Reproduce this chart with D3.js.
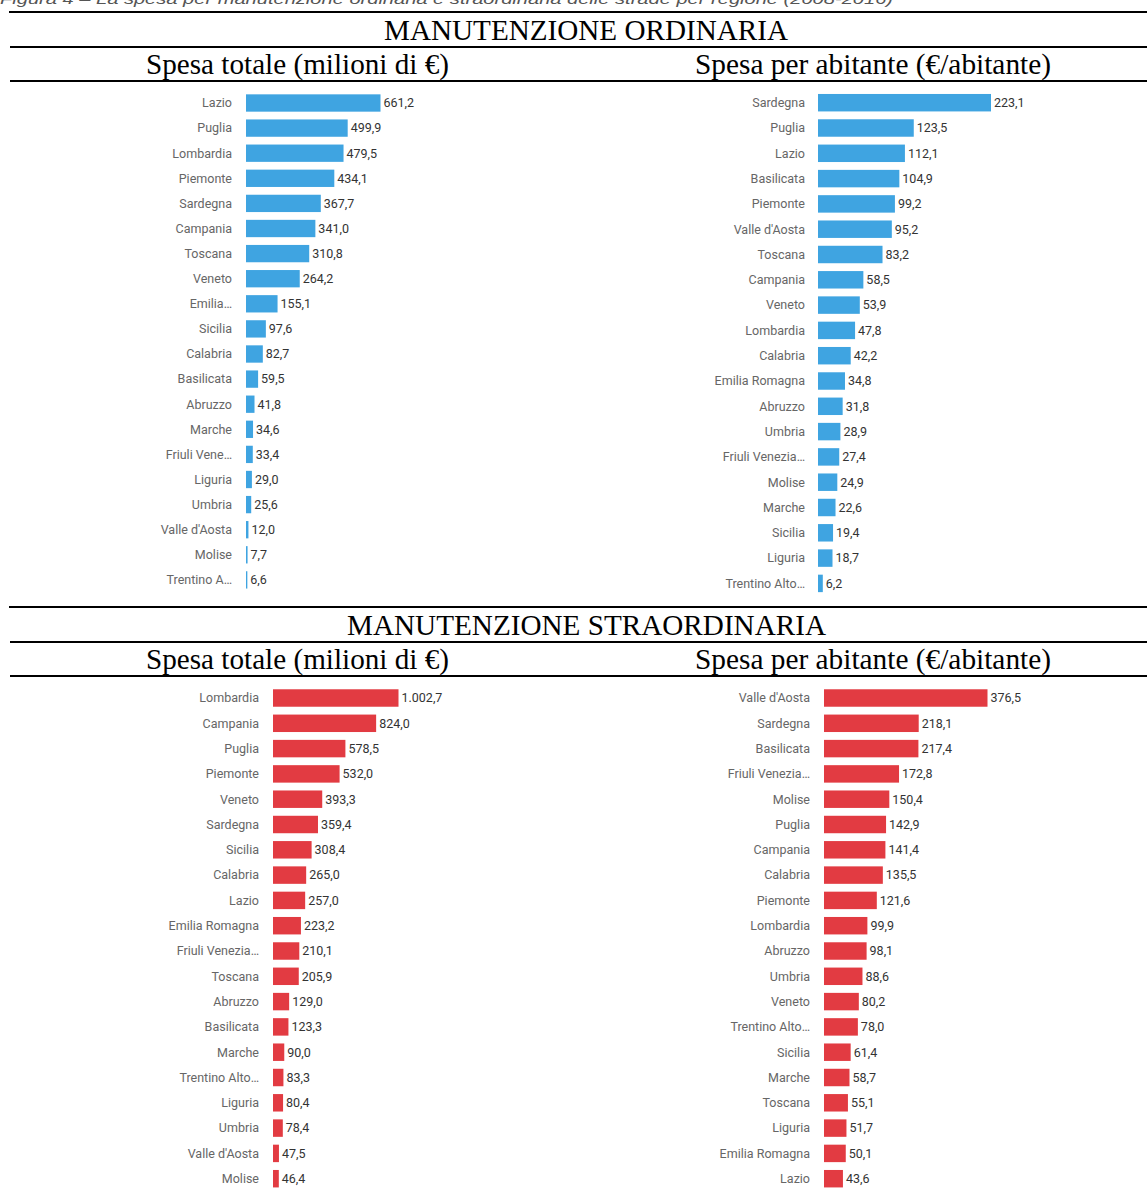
<!DOCTYPE html>
<html>
<head>
<meta charset="utf-8">
<script src="https://cdn.jsdelivr.net/npm/d3@7"></script>
<style>
  html, body { margin: 0; padding: 0; background: #fff; }
  svg { display: block; }
</style>
</head>
<body>
<svg id="chart" width="1147" height="1196"></svg>
<script>
// ---------- DATA ----------
const captionText = "Figura 4 – La spesa per manutenzione ordinaria e straordinaria delle strade per regione (2008-2016)";
const sectionTitles = ["MANUTENZIONE ORDINARIA", "MANUTENZIONE STRAORDINARIA"];
const panelTitles = ["Spesa totale (milioni di €)", "Spesa per abitante (€/abitante)"];

const ordTotRegions = ["Lazio","Puglia","Lombardia","Piemonte","Sardegna","Campania","Toscana","Veneto","Emilia…","Sicilia","Calabria","Basilicata","Abruzzo","Marche","Friuli Vene…","Liguria","Umbria","Valle d'Aosta","Molise","Trentino A…"];
const ordTotValues = [661.2,499.9,479.5,434.1,367.7,341.0,310.8,264.2,155.1,97.6,82.7,59.5,41.8,34.6,33.4,29.0,25.6,12.0,7.7,6.6];

const ordAbRegions = ["Sardegna","Puglia","Lazio","Basilicata","Piemonte","Valle d'Aosta","Toscana","Campania","Veneto","Lombardia","Calabria","Emilia Romagna","Abruzzo","Umbria","Friuli Venezia…","Molise","Marche","Sicilia","Liguria","Trentino Alto…"];
const ordAbValues = [223.1,123.5,112.1,104.9,99.2,95.2,83.2,58.5,53.9,47.8,42.2,34.8,31.8,28.9,27.4,24.9,22.6,19.4,18.7,6.2];

const strTotRegions = ["Lombardia","Campania","Puglia","Piemonte","Veneto","Sardegna","Sicilia","Calabria","Lazio","Emilia Romagna","Friuli Venezia…","Toscana","Abruzzo","Basilicata","Marche","Trentino Alto…","Liguria","Umbria","Valle d'Aosta","Molise"];
const strTotValues = [1002.7,824.0,578.5,532.0,393.3,359.4,308.4,265.0,257.0,223.2,210.1,205.9,129.0,123.3,90.0,83.3,80.4,78.4,47.5,46.4];

const strAbRegions = ["Valle d'Aosta","Sardegna","Basilicata","Friuli Venezia…","Molise","Puglia","Campania","Calabria","Piemonte","Lombardia","Abruzzo","Umbria","Veneto","Trentino Alto…","Sicilia","Marche","Toscana","Liguria","Emilia Romagna","Lazio"];
const strAbValues = [376.5,218.1,217.4,172.8,150.4,142.9,141.4,135.5,121.6,99.9,98.1,88.6,80.2,78.0,61.4,58.7,55.1,51.7,50.1,43.6];

// ---------- LAYOUT ----------
const BLUE = "#3fa4e1", RED = "#e23b42";
const svg = d3.select("#chart");
const fmt = d3.formatLocale({decimal: ",", thousands: ".", grouping: [3], currency: ["", "€"]}).format(",.1f");

// caption (partly cut off at top, as in the source)
svg.append("text")
  .attr("x", 0).attr("y", 4)
  .attr("textLength", 893).attr("lengthAdjust", "spacingAndGlyphs")
  .style("font-family", "Liberation Sans, Arial, sans-serif")
  .style("font-style", "italic").style("font-size", "14px")
  .style("fill", "#555")
  .text(captionText);

function header(offset, title, titleX, titleW) {
  const lines = [
    {y: 12 + offset, x: 9},
    {y: 47 + offset, x: 10},
    {y: 81 + offset, x: 10}
  ];
  svg.selectAll(null).data(lines).enter().append("line")
    .attr("x1", d => d.x).attr("x2", 1147)
    .attr("y1", d => d.y).attr("y2", d => d.y)
    .attr("stroke", "#000").attr("stroke-width", 2);
  const serif = "Liberation Serif, Times New Roman, serif";
  svg.append("text").attr("x", titleX).attr("y", 40 + offset)
    .attr("textLength", titleW).attr("lengthAdjust", "spacingAndGlyphs")
    .style("font-family", serif).style("font-size", "29px").style("fill", "#000")
    .text(title);
  const subs = [{t: panelTitles[0], x: 146, w: 303}, {t: panelTitles[1], x: 695, w: 356}];
  svg.selectAll(null).data(subs).enter().append("text")
    .attr("x", d => d.x).attr("y", 74 + offset)
    .attr("textLength", d => d.w).attr("lengthAdjust", "spacingAndGlyphs")
    .style("font-family", serif).style("font-size", "29px").style("fill", "#000")
    .text(d => d.t);
}

header(0, sectionTitles[0], 384, 404);
header(595, sectionTitles[1], 347, 479);

function panel(regions, values, cfg) {
  const n = regions.length;
  const y = d3.scaleBand().domain(regions)
    .range([cfg.c0 - cfg.step / 2, cfg.c0 + (n - 0.5) * cfg.step])
    .paddingInner(0.31).paddingOuter(0.155);
  const x = d3.scaleLinear().domain([0, d3.max(values)]).range([cfg.x0, cfg.x0 + cfg.w]);
  const data = regions.map((r, i) => ({r, v: values[i]}));
  const g = svg.append("g");
  g.selectAll("rect").data(data).enter().append("rect")
    .attr("x", x(0)).attr("y", d => y(d.r))
    .attr("width", d => Math.max(1, x(d.v) - x(0)))
    .attr("height", y.bandwidth())
    .attr("fill", cfg.color);
  g.selectAll(".lab").data(data).enter().append("text")
    .attr("x", cfg.lx).attr("y", d => y(d.r) + y.bandwidth() / 2)
    .attr("dy", "0.35em").attr("text-anchor", "end")
    .style("font-family", "Roboto, sans-serif").style("font-size", "12.5px")
    .style("fill", "#666").text(d => d.r);
  g.selectAll(".val").data(data).enter().append("text")
    .attr("x", d => Math.max(x(d.v), x(0) + 1) + 3).attr("y", d => y(d.r) + y.bandwidth() / 2)
    .attr("dy", "0.35em")
    .style("font-family", "Roboto, sans-serif").style("font-size", "12.5px")
    .style("fill", "#333").text(d => fmt(d.v));
}

panel(ordTotRegions, ordTotValues, {x0: 246, w: 134.5, lx: 232, c0: 103, step: 25.1, color: BLUE});
panel(ordAbRegions, ordAbValues, {x0: 818, w: 173, lx: 805, c0: 102.7, step: 25.3, color: BLUE});
panel(strTotRegions, strTotValues, {x0: 273, w: 125.5, lx: 259, c0: 698, step: 25.3, color: RED});
panel(strAbRegions, strAbValues, {x0: 824, w: 163.5, lx: 810, c0: 698, step: 25.3, color: RED});
</script>
</body>
</html>
